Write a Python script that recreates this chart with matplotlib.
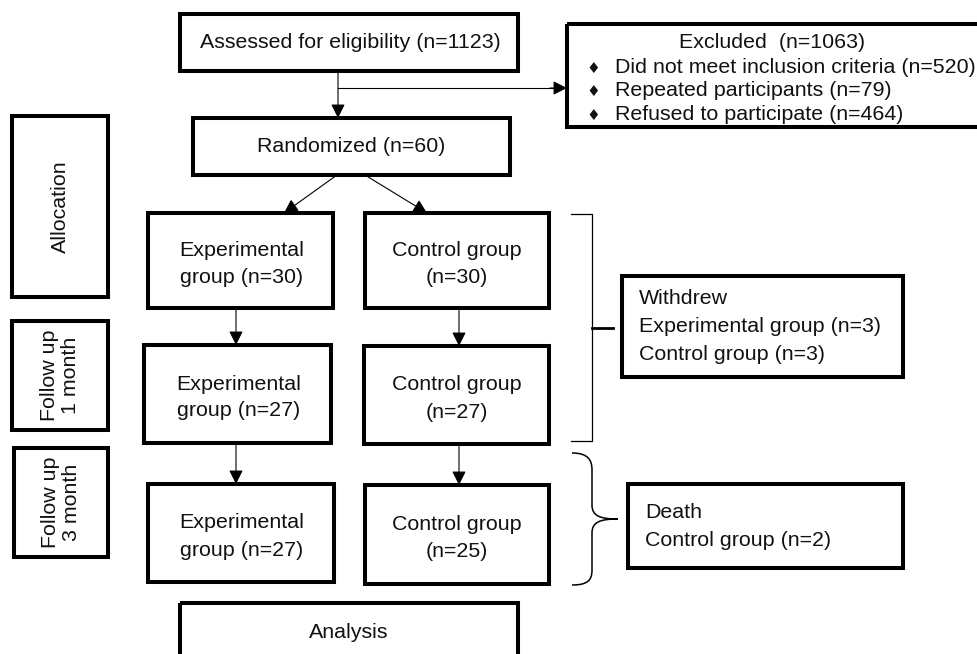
import matplotlib
matplotlib.use("Agg")
import matplotlib.pyplot as plt
from matplotlib.patches import Rectangle, PathPatch
from matplotlib.path import Path

plt.rcParams['font.family'] = ['Liberation Sans', 'DejaVu Sans']

# counts in the flow
n_assessed = 1123
n_excluded = 1063
excl_reasons = ["Did not meet inclusion criteria", "Repeated participants", "Refused to participate"]
excl_counts = [520, 79, 464]
n_random = 60
stages = ["Allocation", "Follow up\n1 month", "Follow up\n3 month"]
exp_counts = [30, 27, 27]
ctrl_counts = [30, 27, 25]
withdrew = {"Experimental group": 3, "Control group": 3}
deaths = {"Control group": 2}

FS = 15.4
BOX_LW = 2.9
THIN = 0.8

fig = plt.figure(figsize=(9.78, 6.54), dpi=100)
ax = fig.add_axes([0, 0, 1, 1])
ax.set_xlim(0, 978)
ax.set_ylim(654, 0)
ax.axis("off")


def box(x0, y0, x1, y1):
    ax.add_patch(Rectangle((x0, y0), x1 - x0, y1 - y0, fill=False,
                           ec="black", lw=BOX_LW, joinstyle="miter", clip_on=False))


def arrow(x0, y0, x1, y1):
    ax.annotate("", xy=(x1, y1), xytext=(x0, y0),
                arrowprops=dict(arrowstyle="-|>,head_length=0.6,head_width=0.3",
                                mutation_scale=14, lw=THIN, color="black",
                                shrinkA=0, shrinkB=0))


def text(x, y, s, ha="center", **kw):
    ax.text(x, y, s, ha=ha, va="center", fontsize=FS, color="#111111", **kw)


# top: assessed -> randomized, excluded
box(180, 14, 518, 71)
text(350, 43, f"Assessed for eligibility (n={n_assessed})")
arrow(338, 71, 338, 118)
ax.plot([338, 556], [88, 88], color="black", lw=THIN)
arrow(550, 88, 567, 88)

box(567, 24, 990, 127)
text(772, 43, f"Excluded  (n={n_excluded})")
for i, (lab, c) in enumerate(zip(excl_reasons, excl_counts)):
    y = 67.5 + i * 23.5
    ax.text(593, y + 1, "\u2666", ha="center", va="center", fontsize=11,
            family="DejaVu Sans", color="#111111")
    text(615, y, f"{lab} (n={c})", ha="left")

box(193, 118, 510, 175)
text(351, 146, f"Randomized (n={n_random})")
arrow(337, 175, 284, 213)
arrow(365, 175, 427, 213)

# stage labels on the left
stage_boxes = [(12, 116, 108, 297), (12, 321, 108, 430), (14, 448, 108, 557)]
for (x0, y0, x1, y1), lab in zip(stage_boxes, stages):
    box(x0, y0, x1, y1)
    text((x0 + x1) / 2, (y0 + y1) / 2, lab, rotation=90, linespacing=1.15)

# group boxes
exp_boxes = [(148, 213, 333, 308), (144, 345, 331, 443), (148, 484, 334, 582)]
ctrl_boxes = [(365, 213, 549, 308), (364, 346, 549, 444), (365, 485, 549, 584)]
for (x0, y0, x1, y1), c in zip(exp_boxes, exp_counts):
    box(x0, y0, x1, y1)
    yc = (y0 + y1) / 2
    text((x0 + x1) / 2 + 1, yc - 10, "Experimental")
    text((x0 + x1) / 2 + 1, yc + 17, f"group (n={c})")
for (x0, y0, x1, y1), c in zip(ctrl_boxes, ctrl_counts):
    box(x0, y0, x1, y1)
    yc = (y0 + y1) / 2
    text((x0 + x1) / 2, yc - 10, "Control group")
    text((x0 + x1) / 2, yc + 17, f"(n={c})")

for i in range(2):
    arrow(236, exp_boxes[i][3], 236, exp_boxes[i + 1][1])
    arrow(459, ctrl_boxes[i][3], 459, ctrl_boxes[i + 1][1])

# withdrew bracket + box
ax.plot([571, 592, 592, 571], [214, 214, 441, 441], color="black", lw=0.9)
ax.plot([592, 613], [328, 328], color="black", lw=2)
box(622, 276, 903, 377)
text(639, 299, "Withdrew", ha="left")
for i, (g, c) in enumerate(withdrew.items()):
    text(639, 327 + i * 27.5, f"{g} (n={c})", ha="left")

# curly brace + death box
verts = [(572, 453), (588, 453), (592, 460), (592, 470),
         (592, 505),
         (592, 516), (600, 519), (618, 519),
         (600, 519), (592, 522), (592, 533),
         (592, 570),
         (592, 580), (588, 585), (572, 585)]
codes = [Path.MOVETO, Path.CURVE4, Path.CURVE4, Path.CURVE4,
         Path.LINETO,
         Path.CURVE4, Path.CURVE4, Path.CURVE4,
         Path.CURVE4, Path.CURVE4, Path.CURVE4,
         Path.LINETO,
         Path.CURVE4, Path.CURVE4, Path.CURVE4]
ax.add_patch(PathPatch(Path(verts, codes), fill=False, ec="black", lw=1.1))
box(628, 484, 903, 568)
text(645, 513, "Death", ha="left")
for g, c in deaths.items():
    text(645, 541, f"{g} (n={c})", ha="left")

# analysis
box(180, 603, 518, 680)
text(349, 633, "Analysis")

fig.savefig("out.png", dpi=100)
